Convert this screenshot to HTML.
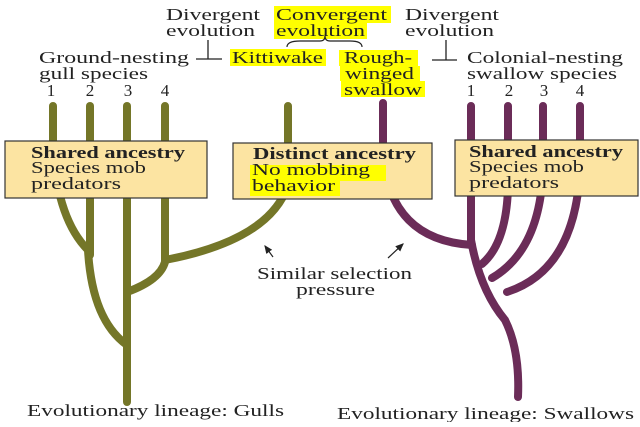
<!DOCTYPE html>
<html><head><style>
body{margin:0;background:#fff;}
svg text{font-family:"Liberation Serif",serif;font-size:17px;fill:#222;}
</style></head><body>
<svg width="640" height="422" viewBox="0 0 640 422" xmlns="http://www.w3.org/2000/svg">
<defs><marker id="ah" markerWidth="8" markerHeight="8" refX="6" refY="4" orient="auto"><path d="M0,1 L7,4 L0,7 z" fill="#222"/></marker></defs>
<g fill="#ffff00">
<rect x="274" y="6" width="117" height="17"/><rect x="274" y="23" width="93" height="16"/>
<rect x="230" y="49" width="96" height="17"/>
<rect x="339" y="50" width="79" height="16"/><rect x="340" y="66" width="80" height="15"/><rect x="341" y="81" width="84" height="16"/>
</g>
<g fill="none" stroke="#747628" stroke-width="8" stroke-linecap="round">
<path d="M127 106 V402"/>
<path d="M53 106 V150 Q58 220 88 250 Q92 320 127 345"/>
<path d="M90 106 V255"/>
<path d="M165 106 V262 Q160 280 127 292"/>
<path d="M288 106 V185 Q270 240 165 260"/>
</g>
<g fill="none" stroke="#6b2c58" stroke-width="8" stroke-linecap="round">
<path d="M383 103 V155 Q390 240 472 245"/>
<path d="M471 106 V240 Q480 290 505 320 Q520 350 518 397"/>
<path d="M508 106 V170 Q510 240 482 264"/>
<path d="M543 106 V170 Q540 250 492 278"/>
<path d="M580 106 V170 Q575 270 507 292"/>
</g>
<g fill="#fce4a2" stroke="#333" stroke-width="1.2">
<rect x="5" y="141" width="202" height="57"/>
<rect x="233" y="143" width="199" height="56"/>
<rect x="455" y="140" width="183" height="56"/>
</g>
<rect x="250" y="165" width="136" height="16" fill="#ffff00"/><rect x="250" y="181" width="90" height="15" fill="#ffff00"/>
<g lengthAdjust="spacingAndGlyphs">
<text x="31" y="158" font-weight="bold" textLength="154" lengthAdjust="spacingAndGlyphs">Shared ancestry</text>
<text x="31" y="173" textLength="115" lengthAdjust="spacingAndGlyphs">Species mob</text>
<text x="31" y="189" textLength="90" lengthAdjust="spacingAndGlyphs">predators</text>
<text x="253" y="159" font-weight="bold" textLength="163" lengthAdjust="spacingAndGlyphs">Distinct ancestry</text>
<text x="252" y="175" textLength="118" lengthAdjust="spacingAndGlyphs">No mobbing</text>
<text x="252" y="191" textLength="83" lengthAdjust="spacingAndGlyphs">behavior</text>
<text x="469" y="157" font-weight="bold" textLength="154" lengthAdjust="spacingAndGlyphs">Shared ancestry</text>
<text x="469" y="172" textLength="115" lengthAdjust="spacingAndGlyphs">Species mob</text>
<text x="469" y="188" textLength="90" lengthAdjust="spacingAndGlyphs">predators</text>

<text x="166" y="20" textLength="94" lengthAdjust="spacingAndGlyphs">Divergent</text>
<text x="166" y="36" textLength="89" lengthAdjust="spacingAndGlyphs">evolution</text>
<text x="276" y="20" textLength="111" lengthAdjust="spacingAndGlyphs">Convergent</text>
<text x="276" y="36" textLength="89" lengthAdjust="spacingAndGlyphs">evolution</text>
<text x="405" y="20" textLength="94" lengthAdjust="spacingAndGlyphs">Divergent</text>
<text x="405" y="36" textLength="89" lengthAdjust="spacingAndGlyphs">evolution</text>
<text x="39" y="63" textLength="150" lengthAdjust="spacingAndGlyphs">Ground-nesting</text>
<text x="39" y="79" textLength="109" lengthAdjust="spacingAndGlyphs">gull species</text>
<text x="232" y="63" textLength="91" lengthAdjust="spacingAndGlyphs">Kittiwake</text>
<text x="344" y="63" textLength="68" lengthAdjust="spacingAndGlyphs">Rough-</text>
<text x="345" y="79" textLength="69" lengthAdjust="spacingAndGlyphs">winged</text>
<text x="344" y="95" textLength="78" lengthAdjust="spacingAndGlyphs">swallow</text>
<text x="467" y="63" textLength="156" lengthAdjust="spacingAndGlyphs">Colonial-nesting</text>
<text x="467" y="79" textLength="150" lengthAdjust="spacingAndGlyphs">swallow species</text>
<text x="257" y="279" textLength="155" lengthAdjust="spacingAndGlyphs">Similar selection</text>
<text x="296" y="295" textLength="79" lengthAdjust="spacingAndGlyphs">pressure</text>
<text x="27" y="416" textLength="257" lengthAdjust="spacingAndGlyphs">Evolutionary lineage: Gulls</text>
<text x="337" y="419" textLength="297" lengthAdjust="spacingAndGlyphs">Evolutionary lineage: Swallows</text>
</g>
<path d="M287 47 Q287 41 300 41 H320 Q325 41 325 36 Q325 41 330 41 H350 Q362 41 362 47" fill="none" stroke="#222" stroke-width="1.2"/>
<path d="M196 59 H222 M208 40 V59" stroke="#222" stroke-width="1.3" fill="none"/>
<path d="M432 60 H457 M446 40 V60" stroke="#222" stroke-width="1.3" fill="none"/>
<g text-anchor="middle">
<text x="51" y="96">1</text><text x="90" y="96">2</text><text x="128" y="96">3</text><text x="165" y="96">4</text>
<text x="471" y="96">1</text><text x="509" y="96">2</text><text x="544" y="96">3</text><text x="580" y="96">4</text>
</g>
<line x1="273" y1="257" x2="265" y2="246" stroke="#222" stroke-width="1.2" marker-end="url(#ah)"/>
<line x1="388" y1="258" x2="403" y2="244" stroke="#222" stroke-width="1.2" marker-end="url(#ah)"/>
</svg>
</body></html>
